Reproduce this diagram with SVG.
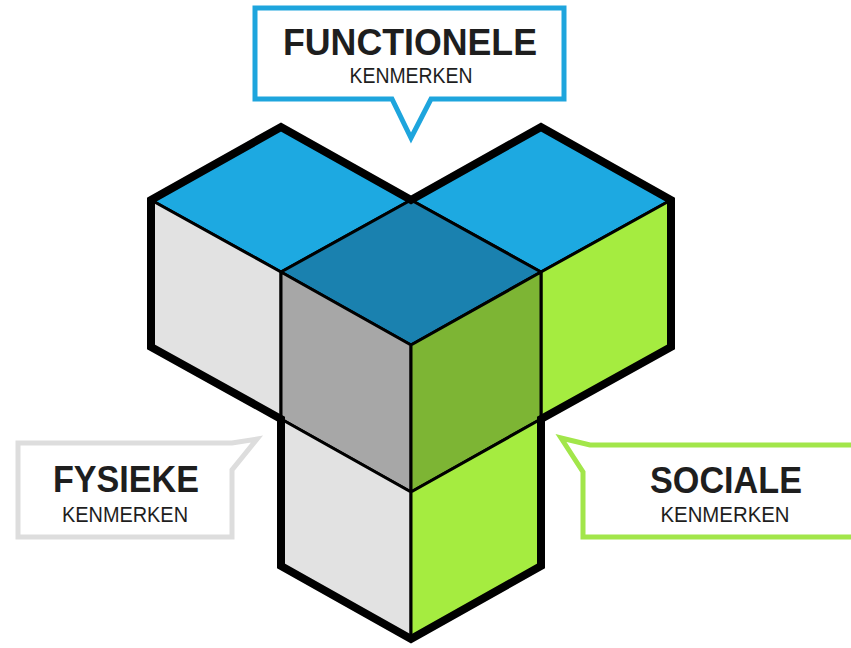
<svg xmlns="http://www.w3.org/2000/svg" width="851" height="648" viewBox="0 0 851 648">
<style>
.face{stroke:#000;stroke-width:3;stroke-linejoin:round}
.blue{fill:#1DA9E1}
.dblue{fill:#1A81AF}
.lgray{fill:#E2E2E2}
.mgray{fill:#A7A7A7}
.lgreen{fill:#A5EC40}
.dgreen{fill:#7DB534}
.outline{fill:none;stroke:#000;stroke-width:8;stroke-linejoin:miter}
.callout{fill:#fff;stroke-width:5;stroke-linejoin:miter}
.title{font-family:"Liberation Sans",Arial,sans-serif;font-weight:bold;font-size:37px;fill:#1E1E1E;text-anchor:middle}
.sub{font-family:"Liberation Sans",Arial,sans-serif;font-size:22px;fill:#1E1E1E;text-anchor:middle}
</style>
<rect width="851" height="648" fill="#fff"/>
<g id="cube-left">
<polygon class="face blue" points="281,127 411,200 281,272 151,200"/>
<polygon class="face lgray" points="151,200 281,272 281,419 151,347"/>
</g>
<g id="cube-right">
<polygon class="face blue" points="541,127 671,200 541,272 411,200"/>
<polygon class="face lgreen" points="541,272 671,200 671,347 541,419"/>
</g>
<g id="cube-center">
<polygon class="face dblue" points="411,200 541,272 411,345 281,272"/>
<polygon class="face mgray" points="281,272 411,345 411,492 281,419"/>
<polygon class="face dgreen" points="411,345 541,272 541,419 411,492"/>
</g>
<g id="cube-bottom">
<polygon class="face lgray" points="281,419 411,492 411,639 281,566"/>
<polygon class="face lgreen" points="411,492 541,419 541,566 411,639"/>
</g>
<g id="outline">
<path class="outline" d="M151,200 L281,127 L411,200 L541,127 L671,200 L671,347 L541,419 L541,566 L411,639 L281,566 L281,419 L151,347 Z"/>
</g>
<g id="callout-functionele">
<path class="callout" stroke="#1EA5DD" d="M255,8 H564 V99 H431 L411,138 L392,99 H255 Z"/>
<text class="title" x="410" y="55" textLength="254" lengthAdjust="spacingAndGlyphs">FUNCTIONELE</text>
<text class="sub" x="411" y="83" textLength="123" lengthAdjust="spacingAndGlyphs">KENMERKEN</text>
</g>
<g id="callout-fysieke">
<path class="callout" stroke="#DDDDDD" d="M18,443 H232 L257,439 L232,470 V537 H18 Z"/>
<text class="title" x="126" y="492" textLength="146" lengthAdjust="spacingAndGlyphs">FYSIEKE</text>
<text class="sub" x="125" y="522" textLength="126" lengthAdjust="spacingAndGlyphs">KENMERKEN</text>
</g>
<g id="callout-sociale">
<path class="callout" stroke="#A2E64A" d="M860,445 H590 L561,438 L583,472 V537 H860"/>
<text class="title" x="726" y="493" textLength="152" lengthAdjust="spacingAndGlyphs">SOCIALE</text>
<text class="sub" x="725" y="522" textLength="129" lengthAdjust="spacingAndGlyphs">KENMERKEN</text>
</g>
</svg>
